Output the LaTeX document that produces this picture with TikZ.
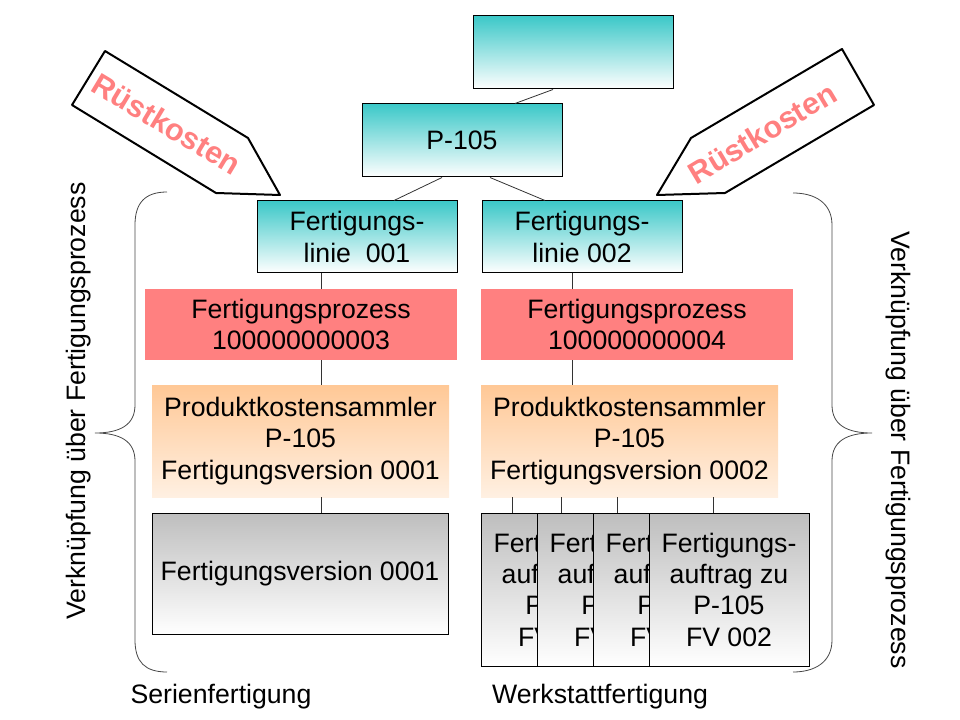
\documentclass[tikz,border=0pt]{standalone}
\usepackage{fontspec}
\setmainfont{Liberation Sans}
\usetikzlibrary{positioning}
\definecolor{tealtop}{RGB}{60,200,200}
\definecolor{prozessred}{RGB}{255,128,128}
\definecolor{orangetop}{RGB}{255,200,150}
\definecolor{orangebot}{RGB}{255,240,226}
\definecolor{graytop}{RGB}{190,190,190}
\definecolor{bracegray}{RGB}{70,70,70}
\tikzset{
  basebox/.style={rectangle, inner sep=0pt, align=center,
                  font=\fontsize{20}{23.5}\selectfont},
  tealbox/.style={basebox, draw, line width=0.75pt, top color=tealtop, bottom color=white,
                  minimum width=150pt, minimum height=54.75pt},
  prozessbox/.style={basebox, fill=prozessred, minimum width=234pt, minimum height=53.25pt},
  pksbox/.style={basebox, top color=orangetop, bottom color=orangebot,
                 minimum width=222.75pt, minimum height=84pt},
  graybox/.style={basebox, draw, line width=0.75pt, top color=graytop, bottom color=white},
  auftragbox/.style={graybox, minimum width=120pt, minimum height=114.75pt},
  conn/.style={line width=0.6pt, draw=black!80},
  bracepath/.style={line width=0.6pt, draw=bracegray},
  sidelabel/.style={font=\fontsize{20}{24}\selectfont},
  rkarrow/.style={line width=1.5pt, draw=black, fill=white, line join=round},
  rklabel/.style={font=\fontsize{23}{26}\selectfont\bfseries, text=prozessred},
}
\begin{document}
\begin{tikzpicture}[x=0.75pt, y=-0.75pt]
  \useasboundingbox (0,0) rectangle (960,720);

  % --- Hierarchie oben ---
  \node (top) [tealbox] at (573,52.5) {};
  \node (p105) [tealbox] at (462,140.5) {P-105};
  \node (linie1) [tealbox, minimum height=54pt] at (357,237) {Fertigungs-\\linie\ \ 001};
  \node (linie2) [tealbox, minimum height=54pt] at (582,237) {Fertigungs-\\linie 002};

  % --- Prozesse und Kostensammler ---
  \node (prozess1) [prozessbox] at (301,324.5) {Fertigungsprozess\\100000000003};
  \node (prozess2) [prozessbox] at (637,324.5) {Fertigungsprozess\\100000000004};
  \node (pks1) [pksbox] at (300.5,441) {Produktkostensammler\\P-105\\Fertigungsversion 0001};
  \node (pks2) [pksbox] at (629.5,441) {Produktkostensammler\\P-105\\Fertigungsversion 0002};

  % --- Serienfertigung / Werkstattfertigung ---
  \node (fv1) [graybox, minimum width=222pt, minimum height=90.75pt] at (300,573.5) {Fertigungsversion 0001};
  \foreach \n/\x in {1/561, 2/617, 3/673, 4/729}
    \node (auf\n) [auftragbox] at (\x,589.5) {Fertigungs-\\auftrag zu\\P-105\\FV 002};

  % --- Verbindungen ---
  \coordinate (axL) at (321,0);
  \coordinate (axR) at (572,0);
  \draw[conn] ([xshift=-15pt]top.south) -- ([xshift=39.75pt]p105.north);
  \draw[conn] ([xshift=-15pt]p105.south) -- ([xshift=27.75pt]linie1.north);
  \draw[conn] ([xshift=21pt]p105.south) -- ([xshift=-27.75pt]linie2.north);
  \draw[conn] (linie1.south -| axL) -- (prozess1.north -| axL);
  \draw[conn] (prozess1.south -| axL) -- (pks1.north -| axL);
  \draw[conn] (pks1.south -| axL) -- (fv1.north -| axL);
  \draw[conn] (linie2.south -| axR) -- (prozess2.north -| axR);
  \draw[conn] (prozess2.south -| axR) -- (pks2.north -| axR);
  \foreach \n/\x in {1/512, 2/561, 3/617, 4/713}
    \draw[conn] (pks2.south -| \x,0) -- (auf\n.north -| \x,0);

  % --- Klammern ---
  \draw[bracepath] (167,192) .. controls (145,192) and (135,203) .. (135,225)
    -- (135,405) .. controls (135,425) and (120,433) .. (95,433)
    .. controls (120,433) and (135,441) .. (135,461)
    -- (135,640) .. controls (135,662) and (145,672) .. (167,672);
  \draw[bracepath] (793,193) .. controls (815,193) and (832,203) .. (832,225)
    -- (832,405) .. controls (832,425) and (847,433) .. (872,433)
    .. controls (847,433) and (832,441) .. (832,461)
    -- (832,640) .. controls (832,662) and (815,672) .. (793,672);
  \node (verkL) [sidelabel, rotate=90] at (79,401) {Verknüpfung über Fertigungsprozess};
  \node (verkR) [sidelabel, rotate=-90] at (898,450) {Verknüpfung über Fertigungsprozess};

  % --- Rüstkosten-Pfeile ---
  \draw[rkarrow] (105,51) -- (248,138) -- (280,195) -- (216,193) -- (72,105) -- cycle;
  \node (rkL) [rklabel, rotate=-31] at (167,124) {Rüstkosten};
  \draw[rkarrow] (842,49) -- (874,105) -- (725,193) -- (657,195) -- (691,138) -- cycle;
  \node (rkR) [rklabel, rotate=31] at (762,133) {Rüstkosten};

  % --- Beschriftung unten ---
  \node (serie) [sidelabel] at (221,697) {Serienfertigung};
  \node (werkstatt) [sidelabel] at (600,697) {Werkstattfertigung};
\end{tikzpicture}
\end{document}
